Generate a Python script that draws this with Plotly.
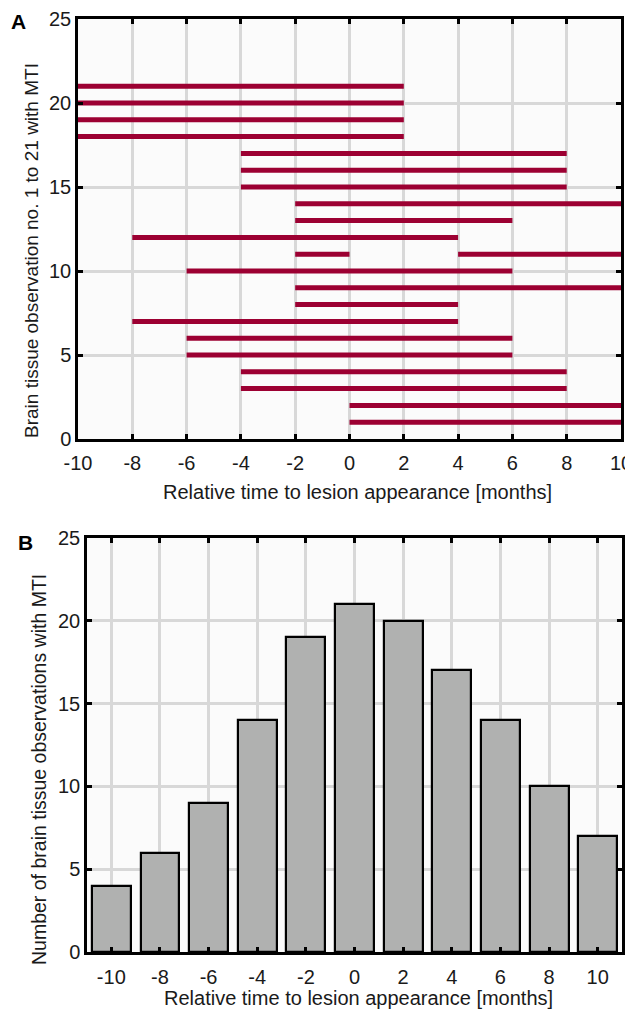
import plotly.graph_objects as go

# Panel A: observation intervals (observation no., start, end in months)
obs_ids = [21, 20, 19, 18, 17, 16, 15, 14, 13, 12, 11, 11, 10, 9, 8, 7, 6, 5, 4, 3, 2, 1]
seg_start = [-10, -10, -10, -10, -4, -4, -4, -2, -2, -8, -2, 4, -6, -2, -2, -8, -6, -6, -4, -4, 0, 0]
seg_end = [2, 2, 2, 2, 8, 8, 8, 10, 6, 4, 0, 10, 6, 10, 4, 4, 6, 6, 8, 8, 10, 10]

# Panel B: counts per relative time
months = [-10, -8, -6, -4, -2, 0, 2, 4, 6, 8, 10]
counts = [4, 6, 9, 14, 19, 21, 20, 17, 14, 10, 7]

tick_x = [-10, -8, -6, -4, -2, 0, 2, 4, 6, 8, 10]
tick_x_text = ["-10", "-8", "-6", "-4", "-2", "0", "2", "4", "6", "8", "10"]
tick_y = [0, 5, 10, 15, 20, 25]

x_title = "Relative time to lesion appearance [months]"
y_title_a = "Brain tissue observation no. 1 to 21 with MTI"
y_title_b = "Number of brain tissue observations with MTI"

# page body has an 8px margin, so the figure starts 8px in
OFF = 8
W, H = 633 - OFF, 1011 - OFF
FONT = "Liberation Sans, Arial, sans-serif"
RED = "#9c0032"
GRID = "#d8d8d8"
TXT = "#1a1a1a"

xs, ys = [], []
for o, s, e in zip(obs_ids, seg_start, seg_end):
    xs += [s, e, None]
    ys += [o, o, None]

fig = go.Figure()
fig.add_trace(go.Scatter(x=xs, y=ys, mode="lines", line=dict(color=RED, width=5),
                         xaxis="x", yaxis="y", showlegend=False, hoverinfo="skip"))
fig.add_trace(go.Bar(x=months, y=counts, width=1.6,
                     marker=dict(color="#b0b1b0", line=dict(color="black", width=2.2)),
                     xaxis="x2", yaxis="y2", showlegend=False))

def px_x(p):
    return (p - OFF) / W

def px_y(p):
    return 1 - (p - OFF) / H

axis_common = dict(showline=True, linecolor="black", linewidth=2.5, mirror="ticks",
                   ticks="inside", ticklen=5, tickwidth=2.5, tickcolor="black",
                   showgrid=True, gridcolor=GRID, gridwidth=2.5, zeroline=False,
                   automargin=False,
                   tickfont=dict(family=FONT, size=20, color=TXT))

fig.update_layout(
    width=W, height=H, margin=dict(l=0, r=0, t=0, b=0),
    paper_bgcolor="white", plot_bgcolor="#fbfbfb",
    bargap=0,
    xaxis=dict(domain=[px_x(78), px_x(621)], range=[-10, 10], tickvals=tick_x, ticktext=tick_x_text,
               anchor="y", ticklabelstandoff=4, **axis_common),
    yaxis=dict(domain=[px_y(439), px_y(19)], range=[0, 25], tickvals=tick_y,
               anchor="x", **axis_common),
    xaxis2=dict(domain=[px_x(87), px_x(622)], range=[-11, 11], tickvals=tick_x, ticktext=tick_x_text,
                anchor="y2", ticklabelstandoff=5, **axis_common),
    yaxis2=dict(domain=[px_y(952), px_y(538)], range=[0, 25], tickvals=tick_y,
                anchor="x2", **axis_common),
    annotations=[
        dict(text="<b>A</b>", x=px_x(9), y=px_y(22), xref="paper", yref="paper",
             xanchor="left", yanchor="middle", showarrow=False,
             font=dict(family=FONT, size=21, color="black")),
        dict(text="<b>B</b>", x=px_x(16), y=px_y(542), xref="paper", yref="paper",
             xanchor="left", yanchor="middle", showarrow=False,
             font=dict(family=FONT, size=21, color="black")),
        dict(text=x_title, x=px_x(357), y=px_y(492), xref="paper", yref="paper",
             xanchor="center", yanchor="middle", showarrow=False,
             font=dict(family=FONT, size=20, color=TXT)),
        dict(text=x_title, x=px_x(358), y=px_y(998), xref="paper", yref="paper",
             xanchor="center", yanchor="middle", showarrow=False,
             font=dict(family=FONT, size=20, color=TXT)),
        dict(text=y_title_a, x=px_x(31), y=px_y(251), xref="paper", yref="paper",
             xanchor="center", yanchor="middle", textangle=-90, showarrow=False,
             font=dict(family=FONT, size=19, color=TXT)),
        dict(text=y_title_b, x=px_x(39), y=px_y(770), xref="paper", yref="paper",
             xanchor="center", yanchor="middle", textangle=-90, showarrow=False,
             font=dict(family=FONT, size=19.5, color=TXT)),
    ],
)

fig.write_html("out.html")
